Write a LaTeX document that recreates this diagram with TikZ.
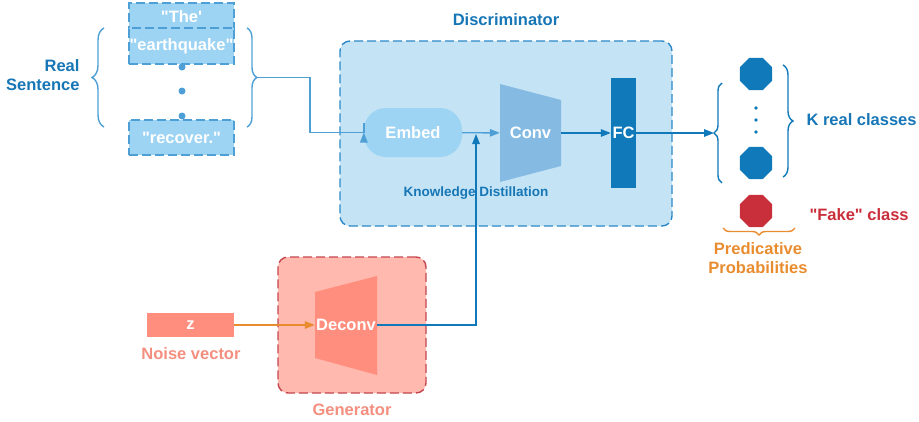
\documentclass[tikz,border=0pt]{standalone}
\usepackage{fontspec}
\newfontfamily\diagfont{Liberation Sans}
\usetikzlibrary{positioning}
\usetikzlibrary{arrows.meta}
\usetikzlibrary{shapes.geometric}
\usetikzlibrary{decorations.pathreplacing}
\definecolor{discfill}{HTML}{C4E4F6}
\definecolor{discline}{HTML}{2B88C8}
\definecolor{embedfill}{HTML}{9DD3F3}
\definecolor{convfill}{HTML}{85BBE3}
\definecolor{deepblue}{HTML}{0F79BA}
\definecolor{textblue}{HTML}{1676B6}
\definecolor{bracecol}{HTML}{4E9FD6}
\definecolor{genfill}{HTML}{FFB9AE}
\definecolor{genline}{HTML}{C4454E}
\definecolor{deconvfill}{HTML}{FF8E7E}
\definecolor{salmon}{HTML}{F48F80}
\definecolor{fakered}{HTML}{C92F3B}
\definecolor{probor}{HTML}{E98C2F}
\tikzset{x=1pt, y=-1pt,
every node/.style={ % Sets the font for each label
font=\diagfont\bfseries\fontsize{16.5}{19}\selectfont},
smalltext/.style={font=\diagfont\bfseries\fontsize{13.5}{16}\selectfont},
longdash/.style={dash pattern=on 9pt off 4pt},
wordbox/.style={draw=bracecol, longdash, line width=1.2pt, fill=embedfill, text=white,
minimum width=105, inner sep=0},
octa/.style={regular polygon, regular polygon sides=8, minimum size=35,
inner sep=0},
curly/.style={decorate, line width=1.4pt}, % Braces around groups
every edge/.style={ % Sets the properties for each arrow
draw,
-{Triangle[length=10pt,width=7.5pt]},
line width=1.4pt}}

\begin{document}
\begin{tikzpicture}
\useasboundingbox (0,0) rectangle (919,421);
% boxes behind
\node[draw=discline, longdash, line width=1.4pt, fill=discfill, rounded corners=10,
minimum width=332, minimum height=185] (disc) at (506,133.5) {};
\node[text=textblue] (disclabel) at (506,20) {Discriminator};
\node[draw=genline, longdash, line width=1.4pt, fill=genfill, rounded corners=10,
minimum width=148, minimum height=136] (gen) at (352,325) {};
\node[text=salmon] (genlabel) at (352,410) {Generator};

% real sentence
\fill[bracecol] (182,67) circle (3.5) (182,91) circle (3.5) (182,116) circle (3.5);
\node[wordbox, minimum height=27] (w1) at (181.5,16.5) {"The'};
\node[wordbox, minimum height=36] (w2) at (181.5,46) {"earthquake"};
\node[wordbox, minimum height=35] (w3) at (181.5,137.5) {"recover."};
\draw[curly, draw=bracecol, decoration={brace, amplitude=12}] (104,127) -- (104,28);
\draw[curly, draw=bracecol, decoration={brace, amplitude=10}] (247,28) -- (247,127);
\coordinate (inR) at (257,77.5);
\node[text=textblue, align=right, anchor=east] (real) at (83,75) {Real\\Sentence};

% discriminator
\node[fill=embedfill, text=white, rounded corners=22, minimum width=98,
minimum height=49] (embed) at (413,132.5) {Embed};
\fill[convfill] (500,84) -- (561,100) -- (561,166) -- (500,182) -- cycle;
\node[text=white, minimum width=61, minimum height=66, inner sep=0] (conv) at (530.5,133) {Conv};
\node[fill=deepblue, text=white, minimum width=25, minimum height=110, inner sep=0] (fc) at (623.5,133) {FC};
\node[smalltext, text=textblue] (kdlabel) at (476,193) {Knowledge Distillation};

% generator
\node[fill=deconvfill, text=white, minimum width=87, minimum height=24, inner sep=0] (z) at (190.5,325) {z};
\node[text=salmon] (zlabel) at (191,354) {Noise vector};
\fill[deconvfill] (315,292) -- (377,276) -- (377,375) -- (315,358) -- cycle;
\node[text=white, minimum width=62, inner sep=0] (deconv) at (346,325) {Deconv};

% outputs
\node[octa, fill=deepblue] (k1) at (756,74) {};
\node[octa, fill=deepblue] (kK) at (756,163) {};
\fill[deepblue] (756,108) circle (1.8) (756,120) circle (1.8) (756,132) circle (1.8);
\node[octa, fill=fakered] (fake) at (756,211) {};
\draw[curly, draw=deepblue, decoration={brace, amplitude=8}] (722,183) -- (722,83);
\coordinate (outL) at (714,133);
\draw[curly, draw=deepblue, decoration={brace, amplitude=10}] (783,65) -- (783,177);
\node[text=textblue, anchor=west] (kreal) at (803,120) {K real classes};
\node[text=fakered, anchor=west] (fakelabel) at (806,215) {"Fake" class};
\draw[curly, draw=probor, decoration={brace, amplitude=7}] (795,228) -- (723,228);
\node[text=probor, align=center] (prob) at (758,258) {Predicative\\Probabilities};

% arrows
\draw[bracecol, line width=1.4pt] (inR) -- (310,77.5) |- (embed.west)
  edge[draw=bracecol] (embed.west);
\draw (embed) edge[draw=bracecol] (conv);
\draw (conv) edge[draw=deepblue] (fc);
\draw (fc) edge[draw=deepblue] (outL);
\draw (z) edge[draw=probor] (deconv);
\coordinate (kd) at (476,134);
\draw[deepblue, line width=1.4pt] (deconv.east) -| (476,240) edge[draw=deepblue] (kd);
\end{tikzpicture}
\end{document}
